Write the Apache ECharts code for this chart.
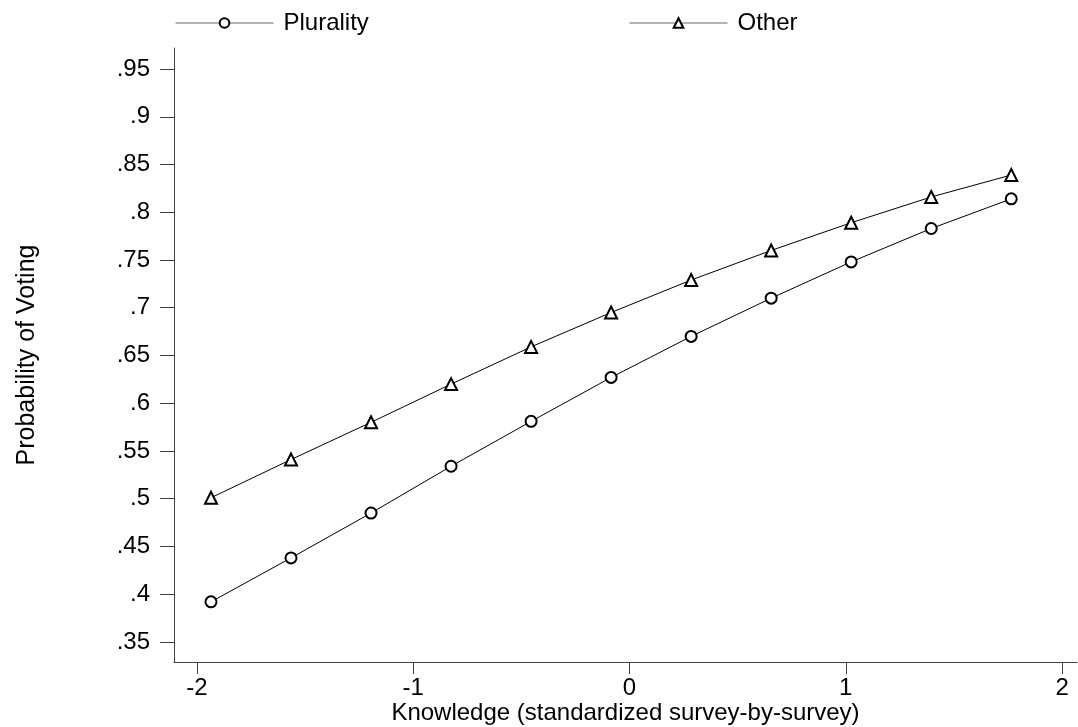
<!DOCTYPE html>
<html>
<head>
<meta charset="utf-8">
<script src="https://cdn.jsdelivr.net/npm/echarts@6/dist/echarts.min.js"></script>
<style>
html,body{margin:0;padding:0;background:#fff;}
#main{width:1078px;height:727px;}
</style>
</head>
<body>
<div id="main"></div>
<script>
// Knowledge (standardized) values at which predictions were made
const knowledge = [-1.935, -1.565, -1.195, -0.825, -0.455, -0.085, 0.285, 0.655, 1.025, 1.395, 1.765];
// Predicted probability of voting
const plurality = [0.392, 0.438, 0.485, 0.534, 0.581, 0.627, 0.670, 0.710, 0.748, 0.783, 0.814];
const other     = [0.501, 0.541, 0.580, 0.620, 0.659, 0.695, 0.729, 0.760, 0.789, 0.816, 0.839];
// Tick labels
const xTicks = [-2, -1, 0, 1, 2];
const yTicks = [0.35, 0.4, 0.45, 0.5, 0.55, 0.6, 0.65, 0.7, 0.75, 0.8, 0.85, 0.9, 0.95];

const FONT = 'Liberation Sans, Arial, sans-serif';
const FS = 24;
const chart = echarts.init(document.getElementById('main'), null, {renderer: 'canvas'});

function fmtY(v) {
  let s = (Math.round(v * 100) / 100).toString();
  return s.replace(/^0\./, '.');
}

chart.setOption({
  animation: false,
  backgroundColor: '#fff',
  textStyle: {fontFamily: FONT},
  grid: {left: 174, right: 1, top: 48, bottom: 65, containLabel: false, outerBoundsMode: 'none'},
  legend: [
    {
      left: 170, top: 6, data: ['Plurality'],
      itemWidth: 98, itemHeight: 12,
      textStyle: {fontSize: FS, color: '#000', fontFamily: FONT, padding: [0, 0, 0, 5]},
      lineStyle: {color: '#666', width: 1}
    },
    {
      left: 624, top: 6, data: ['Other'],
      itemWidth: 98, itemHeight: 12,
      textStyle: {fontSize: FS, color: '#000', fontFamily: FONT, padding: [0, 0, 0, 5]},
      lineStyle: {color: '#666', width: 1}
    }
  ],
  xAxis: {
    type: 'value', min: -2.106, max: 2.069,
    name: 'Knowledge (standardized survey-by-survey)',
    nameLocation: 'middle', nameGap: 39, nameMoveOverlap: false,
    nameTextStyle: {fontSize: FS, color: '#000', fontFamily: FONT},
    axisLine: {show: true, onZero: false, lineStyle: {color: '#404040', width: 1}},
    axisTick: {show: true, length: 12, customValues: xTicks, lineStyle: {color: '#404040'}},
    axisLabel: {customValues: xTicks, fontSize: FS, color: '#000', margin: 14, fontFamily: FONT},
    splitLine: {show: false}
  },
  yAxis: {
    type: 'value', min: 0.329, max: 0.972,
    name: 'Probability of Voting',
    nameLocation: 'middle', nameGap: 134, nameRotate: 90, nameMoveOverlap: false,
    nameTextStyle: {fontSize: 25, color: '#000', fontFamily: FONT},
    axisLine: {show: true, onZero: false, lineStyle: {color: '#404040', width: 1}},
    axisTick: {show: true, length: 14, customValues: yTicks, lineStyle: {color: '#404040'}},
    axisLabel: {customValues: yTicks, fontSize: FS, color: '#000', margin: 24, fontFamily: FONT, formatter: fmtY},
    splitLine: {show: false}
  },
  series: [
    {
      name: 'Plurality', type: 'line',
      data: knowledge.map((x, i) => [x, plurality[i]]),
      symbol: 'emptyCircle', symbolSize: 11,
      itemStyle: {color: '#000', borderWidth: 1},
      lineStyle: {color: '#000', width: 1}
    },
    {
      name: 'Other', type: 'line',
      data: knowledge.map((x, i) => [x, other[i]]),
      symbol: 'emptyTriangle', symbolSize: 12,
      itemStyle: {color: '#000', borderWidth: 1},
      lineStyle: {color: '#000', width: 1}
    }
  ]
});
</script>
</body>
</html>
